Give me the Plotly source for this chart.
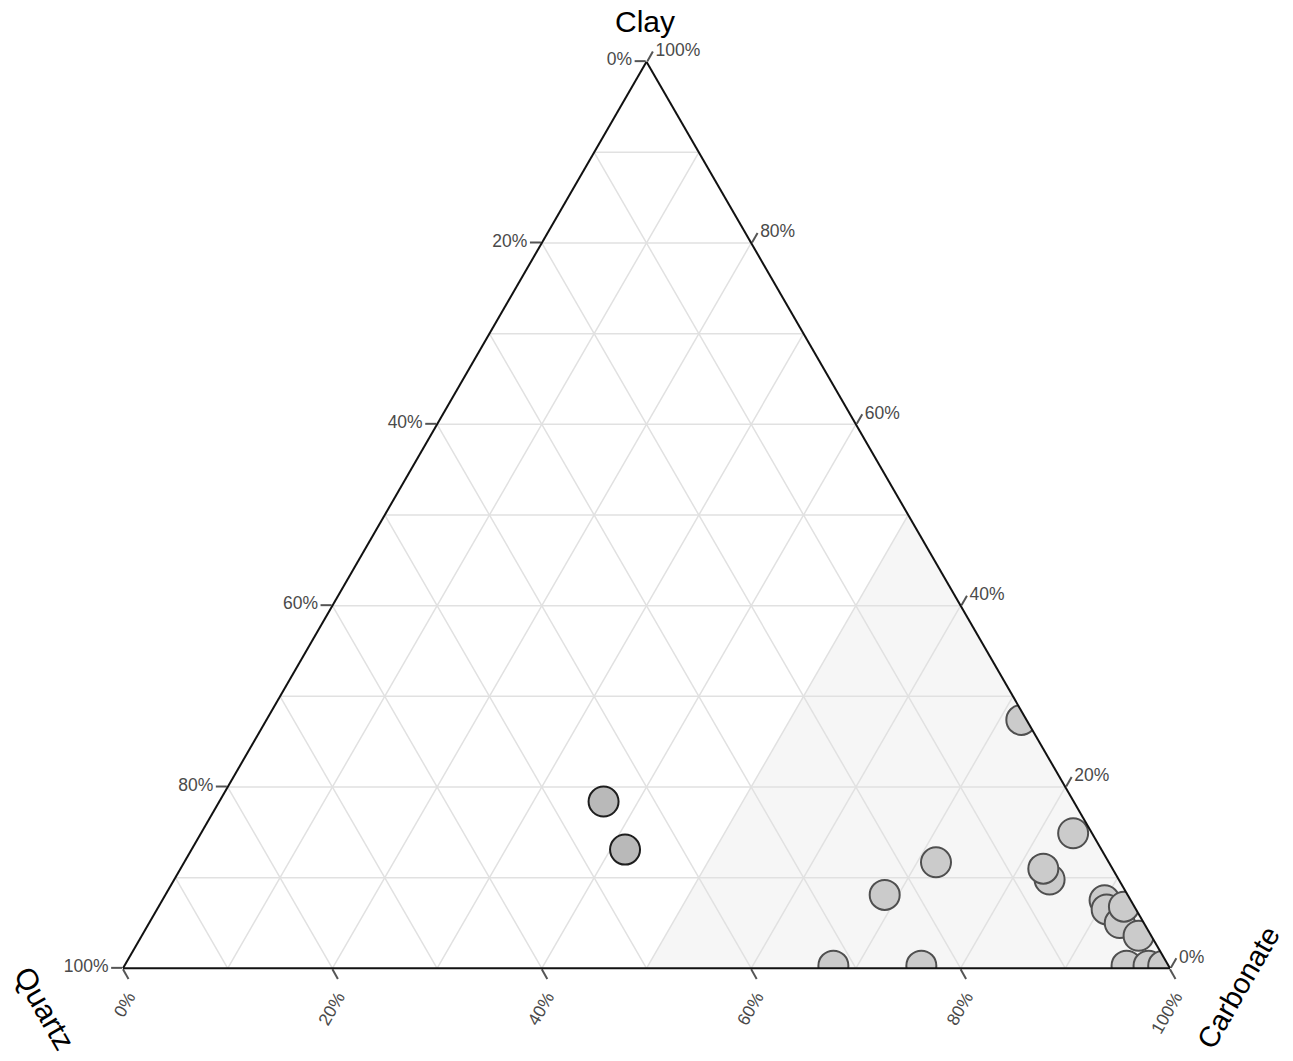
import plotly.graph_objects as go

# Mineral composition (%) of the samples: Clay, Quartz, Carbonate
siliceous_clay = [18.4, 13.1]
siliceous_quartz = [44.9, 45.5]
siliceous_carbonate = [36.7, 41.4]

carbonate_clay = [27.4, 14.9, 11.7, 8.1, 9.8, 11.0, 7.5, 6.5, 5.0, 6.8, 3.6,
                  0.3, 0.3, 0.3, 0.3, 0.3]
carbonate_quartz = [0.5, 1.8, 16.5, 23.2, 6.6, 6.6, 2.5, 2.8, 2.3, 1.0, 1.2,
                    32.0, 23.6, 4.0, 1.9, 0.5]
carbonate_carbonate = [72.1, 83.3, 71.8, 68.7, 83.6, 82.4, 90.0, 90.7, 92.7, 92.2, 95.2,
                       67.7, 76.1, 95.7, 97.8, 99.2]

# Carbonate-dominated field (carbonate >= 50 %)
field_clay = [0, 0, 50, 0]
field_quartz = [50, 0, 0, 50]
field_carbonate = [50, 100, 50, 50]

label_vals = [0, 20, 40, 60, 80, 100]
grid_vals = [10, 20, 30, 40, 50, 60, 70, 80, 90]

fig = go.Figure()

# Shaded carbonate field
fig.add_trace(go.Scatterternary(
    a=field_clay, b=field_quartz, c=field_carbonate,
    mode="lines", fill="toself", fillcolor="#f6f6f6",
    line=dict(width=0, color="rgba(0,0,0,0)"),
    hoverinfo="skip", showlegend=False,
))

# Grid lines every 10 % for each component
ga, gb, gc = [], [], []
for v in grid_vals:
    # constant clay
    ga += [v, v, None]; gb += [100 - v, 0, None]; gc += [0, 100 - v, None]
    # constant quartz
    ga += [100 - v, 0, None]; gb += [v, v, None]; gc += [0, 100 - v, None]
    # constant carbonate
    ga += [100 - v, 0, None]; gb += [0, 100 - v, None]; gc += [v, v, None]
fig.add_trace(go.Scatterternary(
    a=ga, b=gb, c=gc, mode="lines",
    line=dict(color="#e1e1e1", width=1.5),
    hoverinfo="skip", showlegend=False, connectgaps=False,
))

fig.add_trace(go.Scatterternary(
    a=siliceous_clay, b=siliceous_quartz, c=siliceous_carbonate,
    mode="markers",
    marker=dict(size=30, color="#b9b9b9", line=dict(color="#1e1e1e", width=2)),
    showlegend=False,
))

fig.add_trace(go.Scatterternary(
    a=carbonate_clay, b=carbonate_quartz, c=carbonate_carbonate,
    mode="markers",
    marker=dict(size=30, color="#cbcbcb", line=dict(color="#4f4f4f", width=2)),
    showlegend=False,
))

tick_font = dict(family="Liberation Sans, Arial, sans-serif", size=17.5, color="#4a4a4a")
axis_common = dict(
    showgrid=False, linecolor="#111111", linewidth=2,
    ticks="outside", ticklen=11, tickcolor="#555555", tickwidth=1.5,
    tickfont=tick_font, min=0, title=dict(text=""),
)

fig.update_layout(
    width=1293, height=1061,
    margin=dict(l=0, r=0, t=0, b=0),
    paper_bgcolor="white",
    font=dict(family="Liberation Sans, Arial, sans-serif"),
    ternary=dict(
        sum=100,
        bgcolor="white",
        domain=dict(x=[123 / 1293, 1170 / 1293], y=[92 / 1061, 1000 / 1061]),
        # left edge shows quartz, bottom edge carbonate, right edge clay
        aaxis=dict(axis_common, tickvals=label_vals,
                   ticktext=[f"{100 - v}%" for v in label_vals]),
        baxis=dict(axis_common, tickvals=label_vals, tickangle=-60,
                   ticktext=[f"{100 - v}%" for v in label_vals]),
        caxis=dict(axis_common, tickvals=label_vals,
                   ticktext=[f"{100 - v}%" for v in label_vals]),
    ),
)

title_font = dict(family="Liberation Sans, Arial, sans-serif", size=30, color="black")
fig.add_annotation(text="Clay", x=645 / 1293, y=1 - 21 / 1061, xref="paper", yref="paper",
                   showarrow=False, font=title_font, xanchor="center", yanchor="middle")
fig.add_annotation(text="Quartz", x=45 / 1293, y=1 - 1008 / 1061, xref="paper", yref="paper",
                   showarrow=False, font=title_font, textangle=60,
                   xanchor="center", yanchor="middle")
fig.add_annotation(text="Carbonate", x=1238 / 1293, y=1 - 988 / 1061, xref="paper", yref="paper",
                   showarrow=False, font=dict(title_font, size=29), textangle=-60,
                   xanchor="center", yanchor="middle")

fig.write_html("out.html")
